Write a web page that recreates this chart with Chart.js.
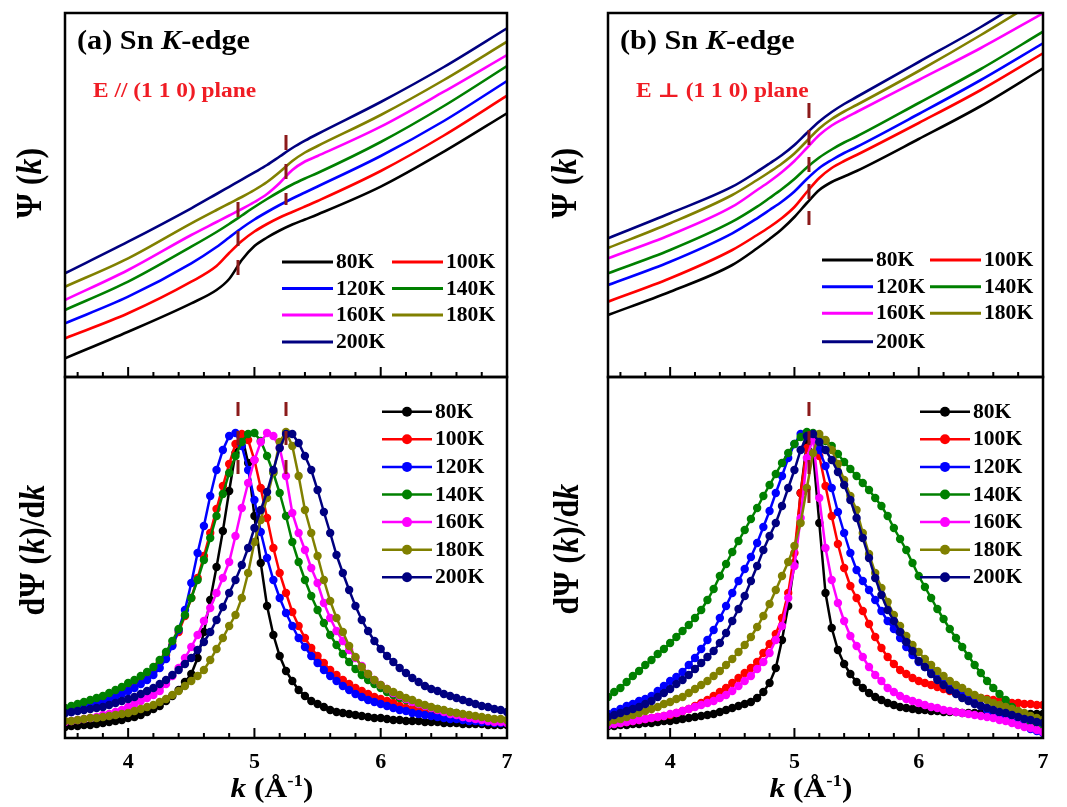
<!DOCTYPE html>
<html><head><meta charset="utf-8">
<script src="https://cdn.jsdelivr.net/npm/chart.js@4.4.0/dist/chart.umd.min.js"></script>
<style>
html,body{margin:0;padding:0;background:#fff;}
#wrap{position:relative;width:1067px;height:807px;overflow:hidden;background:#fff;}
canvas{position:absolute;}
</style></head><body>
<div id="wrap">
<canvas id="ta" width="530" height="380" style="left:0;top:0"></canvas>
<canvas id="tb" width="537" height="380" style="left:530px;top:0"></canvas>
<canvas id="ba" width="530" height="447" style="left:0;top:360px"></canvas>
<canvas id="bb" width="537" height="447" style="left:530px;top:360px"></canvas>
</div>
<script>
const LABELS = ['80K','100K','120K','140K','160K','180K','200K'];
const TICK_MAJOR = [4,5,6,7];
const TICK_MINOR = [3.6,3.8,4.2,4.4,4.6,4.8,5.2,5.4,5.6,5.8,6.2,6.4,6.6,6.8];

// ---- top panels: Psi(k) ----
const K_TOP = [3.5,4.0,4.5,4.7,4.8,4.9,5.0,5.1,5.2,5.3,5.4,5.5,6.0,6.5,7.0];
const PA_80  = [18.7,45.3,73.7,87,98,117,131,139.5,146.5,152.5,157.5,162.5,190.3,225.3,263.7];
const PA_100 = [38.7,63.7,95.3,111,124,136,145.5,153,159.5,165,170.5,176,206,241.5,281.3];
const PA_120 = [53.7,80.3,113.7,130,139.5,149,157.5,165,172,178.5,184.5,190.5,221,256,296];
const PA_140 = [67,95.3,130.3,145,153,161.5,170,178,185.5,192.5,198.5,204,235,271,311];
const PA_160 = [77,107,142,155,161.5,168,175,183,194,207,215.5,221,250.3,285.3,322];
const PA_180 = [90.3,118.7,153.7,167,173.5,180,187,195,205,216,224.5,231,262,297,335.3];
const PA_200 = [103.7,135.3,168.7,183,190.2,197.4,204.6,212,220.5,229,236.3,243,275,310,348.7];

const PB_80  = [62,85.3,112,128.7,138,148,160,174,187,195,200.5,206,238,271,308.7];
const PB_100 = [75.3,98.7,127,142,150,159,170,185,199,209,216,222,254,287,323.7];
const PB_120 = [92,115.3,143.7,158.7,167,175.5,185.5,198,209,217,224,230,263,297,333.7];
const PB_140 = [103.7,127,155.3,170.3,179,188,198,209.5,219.5,227.5,234.5,240.5,274,308,345.3];
const PB_160 = [118.7,142,170.3,187,195.5,205,216,229,242,251.5,258.5,265,297,329,363.7];
const PB_180 = [129,153.7,182,197,205,213.5,223.5,236,248.5,258,265.5,272,306,342,380];
const PB_200 = [138.7,163.7,190.3,205.3,213.5,222,232,244,255.5,265,273,280,315,350,388.7];

// ---- bottom panels: dPsi/dk ----
const K_DOT = [3.50,3.55,3.60,3.65,3.70,3.75,3.80,3.85,3.90,3.95,
4.00,4.05,4.10,4.15,4.20,4.25,4.30,4.35,4.40,4.45,
4.50,4.55,4.60,4.65,4.70,4.75,4.80,4.85,4.90,4.95,
5.00,5.05,5.10,5.15,5.20,5.25,5.30,5.35,5.40,5.45,
5.50,5.55,5.60,5.65,5.70,5.75,5.80,5.85,5.90,5.95,
6.00,6.05,6.10,6.15,6.20,6.25,6.30,6.35,6.40,6.45,
6.50,6.55,6.60,6.65,6.70,6.75,6.80,6.85,6.90,6.95,
7.00];

const DA_80 = [11,12,12,13,13,14,15,16,17,18,
20,21,23,26,29,32,37,42,48,56,
64,80,106,138,171,207,247,285,303,275,
222,175,132,103,82,67,57,48,42,37,
34,31,28,26,25,24,23,22,21,20,
20,19,18,18,17,17,17,16,16,16,
15,15,15,14,14,14,14,13,13,13,
13];
const DA_100 = [28,30,31,33,35,37,39,41,44,47,
50,53,57,62,67,75,83,93,106,122,
140,160,182,205,229,252,274,294,304,298,
278,250,220,190,165,145,126,112,100,90,
82,75,68,63,58,54,50,47,44,41,
39,37,35,32,30,29,28,26,25,24,
23,22,21,21,20,19,19,18,17,17,
16];
const DA_120 = [25,26,28,30,32,34,36,38,41,44,
47,50,54,58,63,70,79,92,108,128,
155,185,212,242,268,288,302,305,292,268,
238,206,180,158,140,125,112,100,91,82,
75,68,62,57,52,48,44,41,38,36,
34,32,30,28,27,25,24,23,22,21,
20,19,19,18,17,17,16,16,15,15,
15];
const DA_140 = [30,32,34,36,38,40,42,45,48,51,
55,58,62,66,71,78,86,97,109,123,
140,158,178,200,222,244,265,282,296,304,
305,297,282,265,245,222,196,176,158,142,
128,115,103,93,84,76,69,63,58,54,
50,46,43,40,38,36,34,32,30,29,
27,26,25,23,22,21,20,19,18,17,
16];
const DA_160 = [16,17,18,19,20,21,23,24,26,28,
31,34,37,40,43,47,54,62,70,80,
91,103,117,130,145,160,176,202,230,255,
278,296,305,302,290,262,225,205,188,170,
155,135,120,107,97,88,80,72,64,58,
53,49,45,42,39,36,34,32,30,28,
26,24,23,21,20,19,18,17,16,16,
15];
const DA_180 = [17,17,18,19,20,20,21,22,23,24,
25,27,29,31,33,36,39,43,47,52,
57,62,68,78,89,100,112,123,140,165,
196,218,240,266,296,306,292,262,228,205,
182,158,137,120,106,92,81,71,64,58,
53,49,46,43,40,38,35,33,31,29,
28,26,25,24,23,22,21,20,19,19,
18];
const DA_200 = [25,26,27,28,29,30,31,33,35,37,
39,41,44,47,50,54,58,63,68,74,
80,88,96,106,118,131,145,158,173,190,
210,228,246,268,290,304,304,295,282,268,
248,226,205,183,165,148,132,118,107,97,
89,82,76,70,65,60,56,52,49,47,
44,42,40,38,36,34,32,31,29,28,
26];

const DB_80 = [12,12,13,13,14,14,15,15,16,17,
17,18,19,20,21,22,23,24,26,28,
30,32,34,36,40,46,55,70,98,132,
175,245,295,285,215,145,110,88,74,64,
56,50,45,41,38,35,33,31,30,29,
28,28,27,27,26,26,26,25,25,25,
25,25,25,25,25,24,24,24,24,24,
24];
const DB_100 = [14,15,15,16,17,18,19,20,21,22,
23,25,27,29,32,35,38,42,46,50,
55,60,65,70,76,85,94,104,120,145,
185,245,290,304,282,252,222,194,170,152,
140,127,114,101,90,81,74,68,64,60,
57,55,53,51,49,47,46,44,43,41,
40,39,38,37,36,35,35,34,34,33,
33];
const DB_120 = [24,26,29,32,34,37,39,42,47,52,
57,61,66,73,80,89,98,108,120,132,
145,157,169,181,195,211,227,245,262,280,
294,304,305,300,288,272,250,226,205,185,
168,157,148,138,127,117,109,100,91,83,
76,71,66,60,55,51,47,43,39,35,
32,28,25,22,19,16,14,12,9,7,
5];
const DB_140 = [41,46,50,56,62,67,73,78,84,89,
95,101,107,113,120,128,138,149,162,174,
186,197,208,219,230,242,253,264,275,285,
294,301,306,305,301,297,292,284,276,269,
262,255,248,240,232,222,210,199,188,175,
162,151,140,129,119,109,100,91,82,73,
65,57,50,44,38,31,25,20,16,12,
8];
const DB_160 = [13,14,15,16,17,18,19,20,21,22,
24,25,27,29,31,33,35,37,40,43,
47,52,57,62,69,76,85,98,112,140,
172,220,280,300,240,190,158,135,117,102,
92,81,71,63,57,50,46,42,39,37,
35,33,31,30,28,27,26,25,24,23,
22,21,20,18,17,15,13,11,10,8,
6];
const DB_180 = [16,18,19,21,23,25,27,29,31,34,
36,39,41,45,49,53,57,62,67,73,
79,86,93,101,111,122,134,148,162,176,
192,215,250,285,304,298,288,274,258,242,
228,205,184,165,150,136,123,112,102,93,
86,79,73,67,62,57,53,50,46,43,
40,38,35,33,31,29,27,25,22,20,
18];
const DB_200 = [21,23,25,27,29,31,34,37,41,45,
49,54,58,63,69,75,81,87,95,105,
117,129,142,157,172,188,202,215,232,250,
268,288,302,304,296,288,278,266,253,238,
220,200,180,160,143,128,117,106,96,87,
77,71,64,58,53,48,44,40,37,34,
32,30,28,26,25,23,21,19,18,16,
15];

// dashed guide marks: k position, [y start, y end]
const MARK_A_K = [4.87, 5.25];
const MARK_A_TOP_Y = [[175,102],[242,172]];
const MARK_A_BOT_Y = [[336,261],[336,261]];
const MARK_B_K = [5.117];
const MARK_B_TOP_Y = [[274,152]];
const MARK_B_BOT_Y = [[336,235]];

// ---- styles ----
const COLORS = ['#000000','#FF0000','#0000FF','#008000','#FF00FF','#808000','#000080'];
const MARK_COLOR = '#8B1A1A';
const FONT = '"Liberation Serif","Times New Roman","DejaVu Serif",serif';

function fontStr(p, size){ return (p.i ? 'italic ' : '') + 'bold ' + size + 'px ' + FONT; }
function drawRich(ctx, parts, x, y, o){
  ctx.save();
  ctx.translate(x, y);
  if (o.rot) ctx.rotate(o.rot);
  ctx.scale(o.sx || 1, o.sy || 1);
  ctx.fillStyle = o.color || '#000';
  ctx.textBaseline = 'alphabetic';
  let w = 0;
  for (const p of parts){ ctx.font = fontStr(p, p.s || o.size); w += ctx.measureText(p.t).width; }
  let cx = o.center ? -w/2 : 0;
  for (const p of parts){ ctx.font = fontStr(p, p.s || o.size); ctx.fillText(p.t, cx, p.dy || 0); cx += ctx.measureText(p.t).width; }
  ctx.restore();
}

function decoPlugin(cfg){
  return {
    id: 'deco',
    afterDatasetsDraw(chart){
      const ctx = chart.ctx, a = chart.chartArea, xs = chart.scales.x;
      ctx.save();
      ctx.strokeStyle = '#000';
      ctx.lineWidth = 2;
      ctx.beginPath();
      for (const v of TICK_MAJOR){ const px = xs.getPixelForValue(v); ctx.moveTo(px, a.bottom); ctx.lineTo(px, a.bottom - 10); }
      for (const v of TICK_MINOR){ const px = xs.getPixelForValue(v); ctx.moveTo(px, a.bottom); ctx.lineTo(px, a.bottom - 5); }
      ctx.stroke();
      ctx.lineWidth = 2.5;
      ctx.strokeRect(a.left, a.top, a.right - a.left, a.bottom - a.top);
      drawRich(ctx, cfg.ytitle, cfg.yx, cfg.yy, {rot: -Math.PI/2, center: true, size: 32, sy: 1.1});
      if (cfg.xtitle) drawRich(ctx, cfg.xtitle, cfg.xx, cfg.xy, {center: true, size: 28, sx: 1.12});
      if (cfg.notes) for (const n of cfg.notes) drawRich(ctx, n.parts, n.x, n.y, {size: n.size, sx: n.sx, color: n.color});
      const L = cfg.legend;
      for (let i = 0; i < LABELS.length; i++){
        const ds = chart.data.datasets[i];
        const col = i % L.ncol, row = Math.floor(i / L.ncol);
        const x0 = L.cols[col], y0 = L.rows[row];
        ctx.strokeStyle = ds.borderColor; ctx.lineWidth = L.lw;
        ctx.beginPath(); ctx.moveTo(x0, y0); ctx.lineTo(x0 + L.len, y0); ctx.stroke();
        if (L.dot){ ctx.fillStyle = ds.borderColor; ctx.beginPath(); ctx.arc(x0 + L.len/2, y0, L.dot, 0, 2*Math.PI); ctx.fill(); }
        ctx.save();
        ctx.translate(x0 + L.len + 3, y0);
        ctx.scale(1.08, 1);
        ctx.fillStyle = '#000'; ctx.font = 'bold 20px ' + FONT; ctx.textBaseline = 'middle';
        ctx.fillText(ds.label, 0, 1);
        ctx.restore();
      }
      ctx.restore();
    }
  };
}

function lineSets(arrs){
  return arrs.map((arr, i) => ({
    label: LABELS[i], data: K_TOP.map((k, j) => ({x: k, y: arr[j]})),
    borderColor: COLORS[i], backgroundColor: COLORS[i], borderWidth: 2.6,
    pointRadius: 0, cubicInterpolationMode: 'monotone', order: 6 - i
  }));
}
function dotSets(arrs){
  return arrs.map((arr, i) => ({
    label: LABELS[i], data: K_DOT.map((k, j) => ({x: k, y: arr[j]})),
    borderColor: COLORS[i], backgroundColor: COLORS[i], borderWidth: 2.5,
    pointRadius: 4.2, pointBorderWidth: 0, pointBackgroundColor: COLORS[i], tension: 0, order: 6 - i
  }));
}
function markSets(ks, ys, dash){
  return ks.map((k, i) => ({
    label: '', data: [{x: k, y: ys[i][0]}, {x: k, y: ys[i][1]}],
    borderColor: MARK_COLOR, borderWidth: 3, borderDash: dash, pointRadius: 0, order: -1
  }));
}

function makeChart(id, datasets, isBottom, pad, ymax, deco){
  const x = isBottom ? {
    type: 'linear', min: 3.5, max: 7, position: 'bottom',
    afterBuildTicks: s => { s.ticks = TICK_MAJOR.map(v => ({value: v})); },
    afterFit: s => { s.height = 69; },
    grid: {display: false, drawTicks: false}, border: {display: false},
    ticks: {color: '#000', font: {family: FONT, size: 22, weight: 'bold'}, padding: 11, maxRotation: 0, autoSkip: false}
  } : {type: 'linear', min: 3.5, max: 7, display: false};
  return new Chart(document.getElementById(id), {
    type: 'line',
    data: {datasets},
    options: {
      responsive: false, animation: false, events: [],
      layout: {padding: pad},
      plugins: {legend: {display: false}, tooltip: {enabled: false}},
      scales: {x, y: {type: 'linear', min: 0, max: ymax, display: false}}
    },
    plugins: [decoPlugin(deco)]
  });
}

const YT_TOP = [{t: 'Ψ ('}, {t: 'k', i: true}, {t: ')'}];
const YT_BOT = [{t: 'dΨ ('}, {t: 'k', i: true}, {t: ')/d'}, {t: 'k', i: true}];
const XT = [{t: 'k', i: true}, {t: ' (Å'}, {t: '-1', s: 17, dy: -11}, {t: ')'}];

makeChart('ta', lineSets([PA_80,PA_100,PA_120,PA_140,PA_160,PA_180,PA_200]).concat(markSets(MARK_A_K, MARK_A_TOP_Y, [15,14])),
  false, {left: 65, right: 23, top: 13, bottom: 3}, 364, {
  ytitle: YT_TOP, yx: 41, yy: 183,
  notes: [
    {parts: [{t: '(a) Sn '}, {t: 'K', i: true}, {t: '-edge'}], x: 77, y: 49, size: 28, sx: 1.08, color: '#000'},
    {parts: [{t: 'E // (1 1 0) plane'}], x: 93, y: 97, size: 20, sx: 1.17, color: '#F01C24'}
  ],
  legend: {ncol: 2, cols: [282, 392], rows: [262, 288.5, 315, 342], len: 51, lw: 3}
});
makeChart('tb', lineSets([PB_80,PB_100,PB_120,PB_140,PB_160,PB_180,PB_200]).concat(markSets(MARK_B_K, MARK_B_TOP_Y, [15,12])),
  false, {left: 78, right: 24, top: 13, bottom: 3}, 364, {
  ytitle: YT_TOP, yx: 46, yy: 183,
  notes: [
    {parts: [{t: '(b) Sn '}, {t: 'K', i: true}, {t: '-edge'}], x: 90, y: 49, size: 28, sx: 1.08, color: '#000'},
    {parts: [{t: 'E ⊥ (1 1 0) plane'}], x: 106, y: 97, size: 20, sx: 1.17, color: '#F01C24'}
  ],
  legend: {ncol: 2, cols: [292, 400], rows: [260, 286.7, 313.3, 341.7], len: 51, lw: 3}
});
makeChart('ba', dotSets([DA_80,DA_100,DA_120,DA_140,DA_160,DA_180,DA_200]).concat(markSets(MARK_A_K, MARK_A_BOT_Y, [14,15])),
  true, {left: 65, right: 23, top: 17, bottom: 0}, 361, {
  ytitle: YT_BOT, yx: 44, yy: 190,
  xtitle: XT, xx: 272, xy: 437,
  legend: {ncol: 1, cols: [382], rows: [51.7, 79.3, 106.9, 134.5, 162.1, 189.7, 217.3], len: 50, lw: 2.5, dot: 5}
});
makeChart('bb', dotSets([DB_80,DB_100,DB_120,DB_140,DB_160,DB_180,DB_200]).concat(markSets(MARK_B_K, MARK_B_BOT_Y, [14,15])),
  true, {left: 78, right: 24, top: 17, bottom: 0}, 361, {
  ytitle: YT_BOT, yx: 48, yy: 189,
  xtitle: XT, xx: 281, xy: 437,
  legend: {ncol: 1, cols: [390], rows: [51.7, 79.3, 106.9, 134.5, 162.1, 189.7, 217.3], len: 50, lw: 2.5, dot: 5}
});
</script>
</body></html>
